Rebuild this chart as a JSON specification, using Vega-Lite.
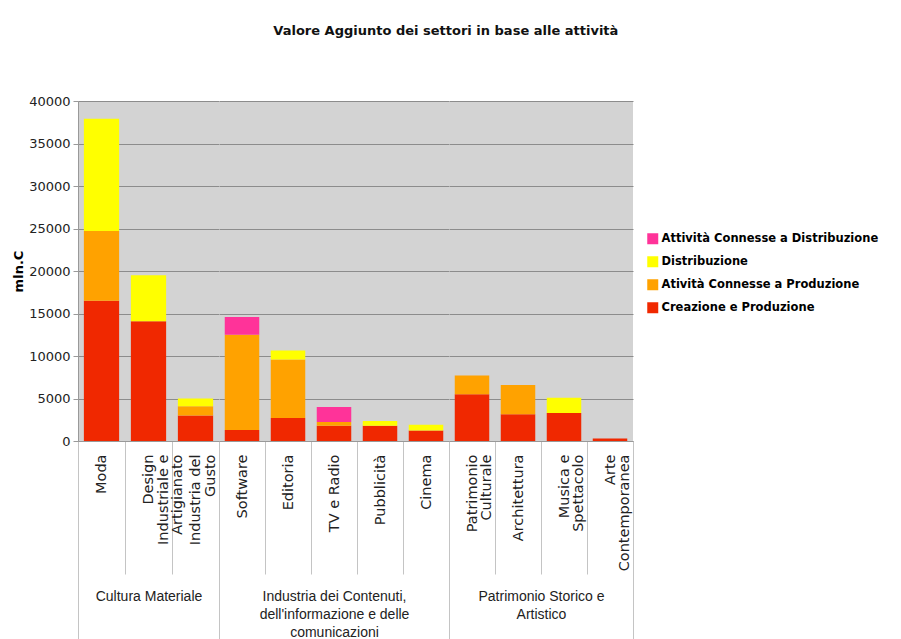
{
  "$schema": "https://vega.github.io/schema/vega-lite/v6.json",
  "padding": {"left": 12, "top": 25, "right": 3, "bottom": 0},
  "background": "white",
  "title": {"text": "Valore Aggiunto dei settori in base alle attività", "font": "DejaVu Sans", "fontSize": 13, "fontWeight": "bold", "color": "#111", "anchor": "middle", "frame": "bounds", "offset": 57},
  "data": {"values": [
    {"group": "Cultura Materiale", "cat": "Moda", "series": "Creazione e Produzione", "so": 1, "value": 16500},
    {"group": "Cultura Materiale", "cat": "Moda", "series": "Atività Connesse a Produzione", "so": 2, "value": 8200},
    {"group": "Cultura Materiale", "cat": "Moda", "series": "Distribuzione", "so": 3, "value": 13200},
    {"group": "Cultura Materiale", "cat": "Design Industriale e Artigianato", "series": "Creazione e Produzione", "so": 1, "value": 14100},
    {"group": "Cultura Materiale", "cat": "Design Industriale e Artigianato", "series": "Distribuzione", "so": 3, "value": 5400},
    {"group": "Cultura Materiale", "cat": "Industria del Gusto", "series": "Creazione e Produzione", "so": 1, "value": 3000},
    {"group": "Cultura Materiale", "cat": "Industria del Gusto", "series": "Atività Connesse a Produzione", "so": 2, "value": 1100},
    {"group": "Cultura Materiale", "cat": "Industria del Gusto", "series": "Distribuzione", "so": 3, "value": 900},
    {"group": "Contenuti", "cat": "Software", "series": "Creazione e Produzione", "so": 1, "value": 1300},
    {"group": "Contenuti", "cat": "Software", "series": "Atività Connesse a Produzione", "so": 2, "value": 11200},
    {"group": "Contenuti", "cat": "Software", "series": "Attività Connesse a Distribuzione", "so": 4, "value": 2100},
    {"group": "Contenuti", "cat": "Editoria", "series": "Creazione e Produzione", "so": 1, "value": 2700},
    {"group": "Contenuti", "cat": "Editoria", "series": "Atività Connesse a Produzione", "so": 2, "value": 6900},
    {"group": "Contenuti", "cat": "Editoria", "series": "Distribuzione", "so": 3, "value": 1050},
    {"group": "Contenuti", "cat": "TV e Radio", "series": "Creazione e Produzione", "so": 1, "value": 1800},
    {"group": "Contenuti", "cat": "TV e Radio", "series": "Atività Connesse a Produzione", "so": 2, "value": 450},
    {"group": "Contenuti", "cat": "TV e Radio", "series": "Attività Connesse a Distribuzione", "so": 4, "value": 1750},
    {"group": "Contenuti", "cat": "Pubblicità", "series": "Creazione e Produzione", "so": 1, "value": 1800},
    {"group": "Contenuti", "cat": "Pubblicità", "series": "Distribuzione", "so": 3, "value": 550},
    {"group": "Contenuti", "cat": "Cinema", "series": "Creazione e Produzione", "so": 1, "value": 1250},
    {"group": "Contenuti", "cat": "Cinema", "series": "Distribuzione", "so": 3, "value": 650},
    {"group": "Patrimonio", "cat": "Patrimonio Culturale", "series": "Creazione e Produzione", "so": 1, "value": 5500},
    {"group": "Patrimonio", "cat": "Patrimonio Culturale", "series": "Atività Connesse a Produzione", "so": 2, "value": 2200},
    {"group": "Patrimonio", "cat": "Architettura", "series": "Creazione e Produzione", "so": 1, "value": 3150},
    {"group": "Patrimonio", "cat": "Architettura", "series": "Atività Connesse a Produzione", "so": 2, "value": 3450},
    {"group": "Patrimonio", "cat": "Musica e Spettacolo", "series": "Creazione e Produzione", "so": 1, "value": 3300},
    {"group": "Patrimonio", "cat": "Musica e Spettacolo", "series": "Distribuzione", "so": 3, "value": 1800},
    {"group": "Patrimonio", "cat": "Arte Contemporanea", "series": "Creazione e Produzione", "so": 1, "value": 300}
  ]},
  "spacing": 0,
  "bounds": "flush",
  "resolve": {"scale": {"y": "shared", "color": "shared"}},
  "hconcat": [
    {
      "transform": [{"filter": {"field": "group", "equal": "Cultura Materiale"}}],
      "width": 141,
      "height": 340,
      "mark": {"type": "bar", "width": {"band": 0.75}},
      "encoding": {
        "x": {"field": "cat", "type": "nominal", "sort": null, "scale": {"paddingInner": 0, "paddingOuter": 0},
          "axis": {"title": "Cultura Materiale",
            "tickSize": {"condition": {"test": "datum.index < 0 || datum.value == 'Industria del Gusto'", "value": 200}, "value": 133},
            "labelPadding": {"condition": {"test": "datum.value == 'Industria del Gusto'", "value": -187}, "value": -120}}},
        "y": {"field": "value", "type": "quantitative", "stack": "zero", "scale": {"domain": [0, 40000]},
          "axis": {"title": "mln.C", "values": [0, 5000, 10000, 15000, 20000, 25000, 30000, 35000, 40000], "format": "d"}},
        "color": {"field": "series", "type": "nominal",
          "scale": {"domain": ["Attività Connesse a Distribuzione", "Distribuzione", "Atività Connesse a Produzione", "Creazione e Produzione"], "range": ["#ff3399", "#ffff00", "#ffa200", "#f02800"]},
          "legend": {"title": null, "orient": "none", "legendX": 569, "legendY": 132, "symbolType": "square", "symbolSize": 121, "symbolStrokeWidth": 0, "labelFont": "DejaVu Sans", "labelFontSize": 11.5, "labelFontWeight": "bold", "labelColor": "#000", "labelOffset": 3, "labelLimit": 400, "rowPadding": 10}},
        "order": {"field": "so", "type": "quantitative"}
      }
    },
    {
      "transform": [{"filter": {"field": "group", "equal": "Contenuti"}}],
      "width": 230,
      "height": 340,
      "mark": {"type": "bar", "width": {"band": 0.75}},
      "encoding": {
        "x": {"field": "cat", "type": "nominal", "sort": null, "scale": {"paddingInner": 0, "paddingOuter": 0},
          "axis": {"title": ["Industria dei Contenuti,", "dell'informazione e delle", "comunicazioni"],
            "tickSize": {"condition": {"test": "datum.index < 0 || datum.value == 'Cinema'", "value": 200}, "value": 133},
            "labelPadding": {"condition": {"test": "datum.value == 'Cinema'", "value": -187}, "value": -120}}},
        "y": {"field": "value", "type": "quantitative", "stack": "zero", "scale": {"domain": [0, 40000]},
          "axis": {"title": null, "labels": false, "ticks": false, "domain": false, "values": [0, 5000, 10000, 15000, 20000, 25000, 30000, 35000, 40000]}},
        "color": {"field": "series", "type": "nominal"},
        "order": {"field": "so", "type": "quantitative"}
      }
    },
    {
      "transform": [{"filter": {"field": "group", "equal": "Patrimonio"}}],
      "width": 184,
      "height": 340,
      "mark": {"type": "bar", "width": {"band": 0.75}},
      "encoding": {
        "x": {"field": "cat", "type": "nominal", "sort": null, "scale": {"paddingInner": 0, "paddingOuter": 0},
          "axis": {"title": ["Patrimonio Storico e", "Artistico"],
            "tickSize": {"condition": {"test": "datum.index < 0 || datum.value == 'Arte Contemporanea'", "value": 200}, "value": 133},
            "labelPadding": {"condition": {"test": "datum.value == 'Arte Contemporanea'", "value": -187}, "value": -120}}},
        "y": {"field": "value", "type": "quantitative", "stack": "zero", "scale": {"domain": [0, 40000]},
          "axis": {"title": null, "labels": false, "ticks": false, "domain": false, "values": [0, 5000, 10000, 15000, 20000, 25000, 30000, 35000, 40000]}},
        "color": {"field": "series", "type": "nominal"},
        "order": {"field": "so", "type": "quantitative"}
      }
    }
  ],
  "config": {
    "view": {"fill": "#d3d3d3", "stroke": null},
    "axisX": {
      "labelAngle": -90,
      "labelFont": "DejaVu Sans",
      "labelFontSize": 14.5,
      "labelLineHeight": 14.5,
      "labelColor": "#222",
      "labelOverlap": false,
      "labelBound": false,
      "labelExpr": "datum.label == 'Design Industriale e Artigianato' ? ['Design', 'Industriale e', 'Artigianato'] : datum.label == 'Industria del Gusto' ? ['Industria del', 'Gusto'] : datum.label == 'Patrimonio Culturale' ? ['Patrimonio', 'Culturale'] : datum.label == 'Musica e Spettacolo' ? ['Musica e', 'Spettacolo'] : datum.label == 'Arte Contemporanea' ? ['Arte', 'Contemporanea'] : datum.label",
      "tickBand": "extent",
      "tickColor": "#c4c4c4",
      "domainColor": "#999999",
      "titleFont": "Liberation Sans",
      "titleFontSize": 14,
      "titleFontWeight": "normal",
      "titleColor": "#222",
      "titleLineHeight": 18,
      "titleBaseline": "top",
      "titleY": 148
    },
    "axisY": {
      "titleFont": "DejaVu Sans",
      "titleFontSize": 13,
      "titleFontWeight": "bold",
      "titleColor": "#000",
      "titlePadding": 3,
      "labelFont": "DejaVu Sans",
      "labelFontSize": 13,
      "labelColor": "#222",
      "labelPadding": 3,
      "tickSize": 5,
      "tickColor": "#999999",
      "domainColor": "#999999",
      "gridColor": "#8c8c8c",
      "gridOpacity": 1
    }
  }
}
